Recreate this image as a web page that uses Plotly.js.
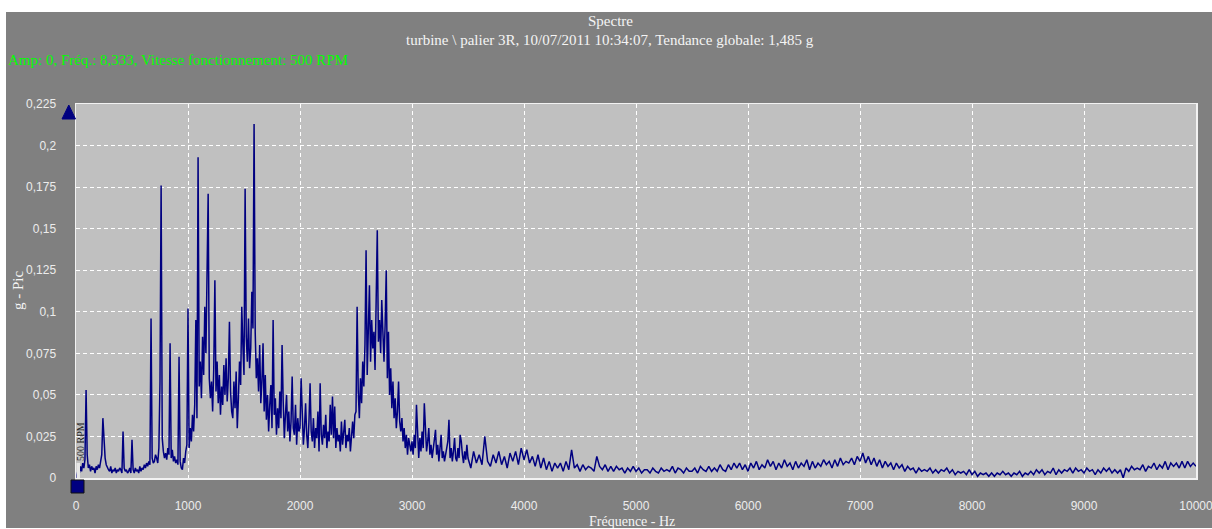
<!DOCTYPE html>
<html><head><meta charset="utf-8">
<script src="https://cdn.plot.ly/plotly-3.0.1.min.js"></script>
<style>html,body{margin:0;padding:0;background:#fff;overflow:hidden}
#chart{position:absolute;left:6px;top:12px;width:1206px;height:516px}</style>
</head><body><div id="chart"></div><script>
// Amplitude in milli-g (g-Pic x 1000), 0 .. 3490 Hz, one value every 10 Hz
const ampLowStartHz = 0, ampLowStepHz = 10;
const ampLow = [
  0,2,5,3,7,4,9,6,11,53,
  14,6,8,4,7,5,6,3,7,5,
  8,6,11,14,36,18,12,8,6,5,
  4,7,3,5,4,6,3,5,4,6,
  5,3,28,6,4,5,3,4,6,3,
  23,5,3,6,4,5,3,7,4,6,
  5,8,6,9,7,10,8,96,12,9,
  10,14,12,9,18,58,176,24,16,12,
  15,11,18,14,81,12,17,10,13,9,
  11,8,73,10,6,5,12,9,16,20,
  102,18,30,22,38,28,44,95,36,193,
  55,70,48,85,62,103,75,140,171,60,
  48,58,40,66,119,52,70,45,62,38,
  55,44,68,50,72,46,60,94,52,40,
  36,58,42,64,30,48,70,56,103,80,
  62,174,85,70,96,66,78,112,90,213,
  88,60,72,52,80,45,58,81,40,62,
  35,50,28,44,56,30,95,38,48,26,
  42,30,52,36,80,46,24,38,50,28,
  40,22,34,61,30,26,44,20,36,28,
  30,60,38,20,30,45,26,18,34,57,
  28,22,36,18,30,24,40,16,57,26,
  20,32,24,38,18,28,22,44,26,49,
  24,43,18,30,22,26,16,34,20,28,
  35,18,26,22,30,16,28,34,24,38,
  40,103,52,36,60,45,70,55,80,137,
  62,85,116,70,95,78,88,65,100,149,
  82,95,75,107,88,70,92,125,60,88,
  50,66,42,58,36,48,30,40,58,34,
  28,36,22,30,18,26,14,24,20,16,
  22,14,26,18,44,20,12,24,16,28,
  18,45,26,16,22,30,14,20,12,18,
  24,29,14,20,10,18,26,12,16,10,
  14,20,22,35,12,18,10,16,24,12,
  10,18,12,26,22,14,9,16,11,20
];
// Amplitude in milli-g, 3500 .. 10000 Hz, one value every 25 Hz
const ampHighStartHz = 3500, ampHighStepHz = 25;
const ampHigh = [
  12,6,16,9,  14,8,25,10,  7,14,9,16,  8,13,6,15,  10,16,8,18,
  11,17,9,13, 7,14,6,12,   5,10,4,9,   6,9,4,10,   5,17,6,8,
  4,8,5,7,    6,4,13,7,    5,8,4,7,    4,7,5,6,    3,6,4,7,
  4,6,3,5,    5,3,6,4,     3,6,4,5,    4,7,3,6,    5,3,6,4,
  4,6,3,7,    5,4,7,4,     6,4,8,5,    4,8,5,9,    6,9,5,8,
  4,9,6,10,   5,8,6,11,    7,10,5,9,   6,11,7,9,   5,10,6,9,
  7,11,5,10,  6,9,7,11,    8,10,6,11,  7,12,8,10,  9,12,8,13,
  10,15,9,13, 8,12,7,11,   6,10,7,9,   5,9,6,8,    4,7,5,6,
  3,6,4,5,    4,6,3,5,     3,5,4,6,    3,5,2,4,    3,4,2,5,
  2,4,1,3,    2,3,1,3,     1,3,2,4,    2,3,1,3,    2,4,1,3,
  2,4,2,5,    3,5,2,4,     3,6,2,5,    3,5,4,6,    3,6,4,5,
  3,6,4,5,    2,5,3,6,     4,6,3,5,    3,5,0,6,    4,7,5,6,
  5,8,4,7,    6,9,5,8,     6,10,5,9,   7,9,6,10,   6,10,7,9,
  7
];
const yTickVals = [0,0.025,0.05,0.075,0.1,0.125,0.15,0.175,0.2,0.225];
const yTickText = ["0","0,025","0,05","0,075","0,1","0,125","0,15","0,175","0,2","0,225"];
const xTickVals = [0,1000,2000,3000,4000,5000,6000,7000,8000,9000,10000];
const xTickText = ["0","1000","2000","3000","4000","5000","6000","7000","8000","9000","10000"];
const titleLine1 = "Spectre";
const titleLine2 = "turbine \\ palier 3R, 10/07/2011 10:34:07, Tendance globale: 1,485 g";
const infoText = "Amp: 0, Fréq.: 8,333, Vitesse fonctionnement: 500 RPM";
const xTitle = "Fréquence - Hz";
const yTitle = "g - Pic";
const rpmLabel = "500 RPM";

const freq = [], amp = [];
ampLow.forEach((v,i)=>{ freq.push(ampLowStartHz + i*ampLowStepHz); amp.push(v/1000); });
ampHigh.forEach((v,i)=>{ freq.push(ampHighStartHz + i*ampHighStepHz); amp.push(v/1000); });

// page pixel -> paper coords (plot area: x 76..1196, y 104..478 on page)
const PX = x => (x-76)/1120, PY = y => (478-y)/374;
const serif = "Liberation Serif, Times New Roman, serif";
const sans = "Liberation Sans, Arial, sans-serif";

const trace = {x:freq, y:amp, type:'scatter', mode:'lines',
  line:{color:'#000080', width:1.5}, hoverinfo:'skip'};

const layout = {
  width:1206, height:516,
  margin:{l:70, r:16, t:92, b:50, pad:0},
  paper_bgcolor:'#808080', plot_bgcolor:'#c0c0c0',
  showlegend:false,
  xaxis:{range:[0,10000], tickvals:xTickVals, ticktext:xTickText, ticks:'',
    ticklabelstandoff:16, ticklabeloverflow:'allow',
    tickfont:{family:sans, size:12, color:'#ececec'},
    showgrid:true, gridcolor:'#ffffff', griddash:'4px,3px', gridwidth:1,
    showline:true, linecolor:'#f2f2f2', linewidth:1.5, mirror:true, zeroline:false, fixedrange:true},
  yaxis:{range:[0,0.225], tickvals:yTickVals, ticktext:yTickText, ticks:'',
    ticklabelstandoff:16,
    tickfont:{family:sans, size:12, color:'#ececec'},
    showgrid:true, gridcolor:'#ffffff', griddash:'4px,3px', gridwidth:1,
    showline:true, linecolor:'#f2f2f2', linewidth:1.5, mirror:true, zeroline:false, fixedrange:true},
  annotations:[
    {text:titleLine1, xref:'paper', yref:'paper', x:PX(610), y:PY(21), xanchor:'center', yanchor:'middle', showarrow:false, font:{family:serif, size:15, color:'#f4f4f4'}},
    {text:titleLine2, xref:'paper', yref:'paper', x:PX(610), y:PY(40), xanchor:'center', yanchor:'middle', showarrow:false, font:{family:serif, size:15, color:'#f4f4f4'}},
    {text:infoText, xref:'paper', yref:'paper', x:PX(6), y:PY(60), xanchor:'left', yanchor:'middle', showarrow:false, font:{family:serif, size:15, color:'#00ff00'}},
    {text:yTitle, xref:'paper', yref:'paper', x:PX(18), y:PY(290), xanchor:'center', yanchor:'middle', textangle:-90, showarrow:false, font:{family:serif, size:15, color:'#f4f4f4'}},
    {text:xTitle, xref:'paper', yref:'paper', x:PX(632), y:PY(521), xanchor:'center', yanchor:'middle', showarrow:false, font:{family:serif, size:14, color:'#f4f4f4'}},
    {text:rpmLabel, xref:'paper', yref:'paper', x:PX(80), y:PY(442), xanchor:'center', yanchor:'middle', textangle:-90, showarrow:false, font:{family:serif, size:10, color:'#202020'}}
  ],
  shapes:[
    {type:'rect', xref:'paper', yref:'paper', x0:PX(76.5), x1:PX(80), y0:PY(478), y1:PY(463), fillcolor:'#e6e6e6', line:{width:0}},
    {type:'path', xref:'paper', yref:'paper', path:`M ${PX(62)} ${PY(119)} L ${PX(75.5)} ${PY(119)} L ${PX(68.8)} ${PY(105)} Z`, fillcolor:'#000080', line:{color:'#000080', width:1}},
    {type:'rect', xref:'paper', yref:'paper', x0:PX(71), x1:PX(84), y0:PY(493), y1:PY(480), fillcolor:'#000080', line:{color:'#101010', width:1}}
  ]
};
Plotly.newPlot('chart', [trace], layout, {displayModeBar:false, staticPlot:true});
</script></body></html>
